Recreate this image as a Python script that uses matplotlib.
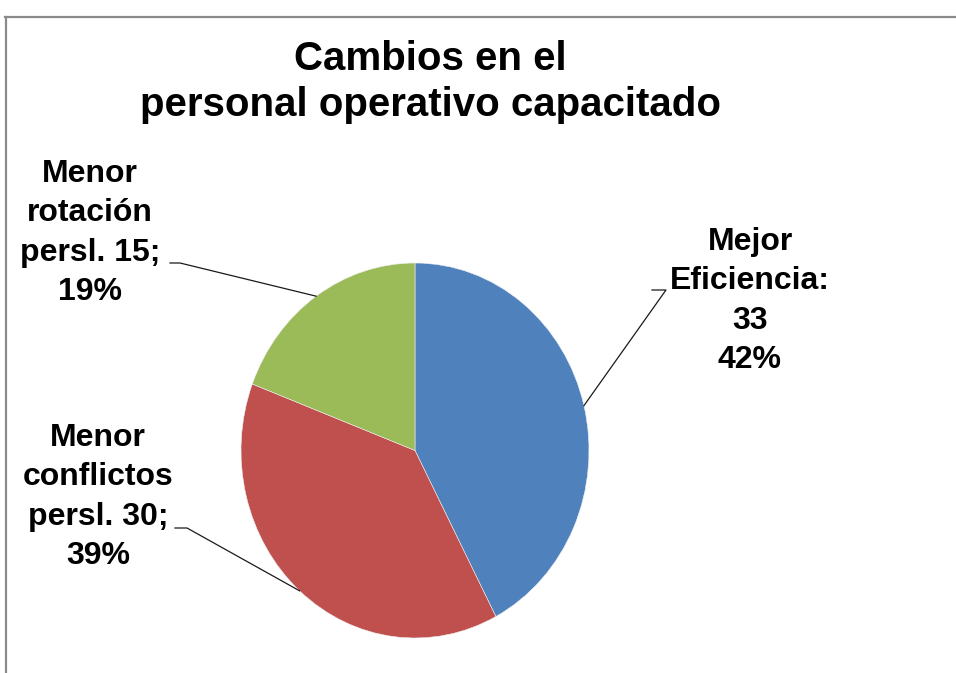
import numpy as np
import matplotlib
matplotlib.use("Agg")
import matplotlib.pyplot as plt
from matplotlib.lines import Line2D

# ---- data ----
categories = ["Mejor\nEficiencia:", "Menor\nconflictos\npersl.", "Menor\nrotación\npersl."]
values = [33, 30, 15]
percents = [42, 39, 19]
label_seps = ["\n", " ", " "]
label_ends = ["", ";", ";"]
colors = ["#4F81BD", "#C0504D", "#9BBB59"]
title = "Cambios en el\npersonal operativo capacitado"

W, H = 956, 673
fig = plt.figure(figsize=(W / 100, H / 100), dpi=100)
fig.patch.set_facecolor("white")

def fx(px):
    return px / W

def fy(py):
    return 1 - py / H

# pie axes placed in pixel box (left, top, right, bottom)
pl, pt, pr, pb = 241, 263, 589, 638
ax = fig.add_axes([fx(pl), fy(pb), fx(pr) - fx(pl), fy(pt) - fy(pb)])
wedges, _ = ax.pie(values, colors=colors, startangle=90, counterclock=False,
                   wedgeprops=dict(linewidth=0.4, edgecolor="#f0f0f0"))
ax.set_aspect("auto")
ax.set_xlim(-1, 1)
ax.set_ylim(-1, 1)
ax.axis("off")

# frame lines
fig.add_artist(Line2D([fx(5), 1], [fy(17), fy(17)], color="#8a8a8a", lw=1.6,
                      transform=fig.transFigure))
fig.add_artist(Line2D([fx(6), fx(6)], [fy(17), 0], color="#8a8a8a", lw=1.6,
                      transform=fig.transFigure))

font = ["Liberation Sans", "DejaVu Sans"]
fig.text(fx(430), fy(82), title, ha="center", va="center", fontsize=29,
         fontweight="bold", family=font, linespacing=1.29)

# label layout: text centre, elbow, end (pixels)
text_pos = [(750, 301), (98, 497), (90, 233)]
elbows = [((666, 290), (652, 290)), ((187, 528), (175, 528)), ((180, 263), (170, 263))]

for w, cat, v, pct, sep, end, tp, (e1, e2) in zip(wedges, categories, values, percents,
                                                 label_seps, label_ends, text_pos, elbows):
    txt = f"{cat}{sep}{v}{end}\n{pct}%"
    fig.text(fx(tp[0]), fy(tp[1]), txt, ha="center", va="center", fontsize=23,
             fontweight="bold", family=font, linespacing=1.42, multialignment="center")
    mid = np.deg2rad((w.theta1 + w.theta2) / 2)
    disp = ax.transData.transform((np.cos(mid), np.sin(mid)))
    fxy = fig.transFigure.inverted().transform(disp)
    fig.add_artist(Line2D([fxy[0], fx(e1[0]), fx(e2[0])], [fxy[1], fy(e1[1]), fy(e2[1])],
                          color="#1a1a1a", lw=0.9, transform=fig.transFigure))

fig.savefig("out.png", dpi=100, facecolor="white")
